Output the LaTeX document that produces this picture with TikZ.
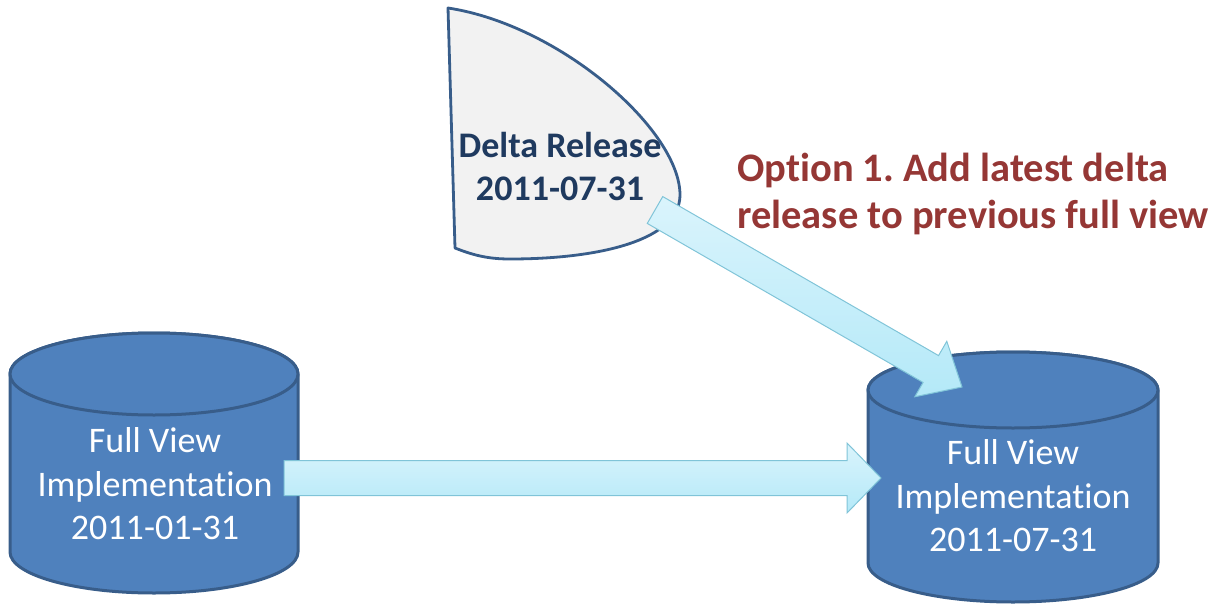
\documentclass[tikz,border=0pt]{standalone}
\usepackage{fontspec}
\setmainfont{Carlito}[Ligatures=NoCommon]
\usetikzlibrary{calc}
\frenchspacing
\definecolor{cylfill}{HTML}{4F81BD}
\definecolor{cylline}{HTML}{385D8A}
\definecolor{arrtop}{HTML}{DAF4FC}
\definecolor{arrbot}{HTML}{B4E9F8}
\definecolor{arrline}{HTML}{80C4D8}
\definecolor{deltafill}{HTML}{F2F2F2}
\definecolor{deltaline}{HTML}{385D8A}
\definecolor{deltatext}{HTML}{1F3A5F}
\definecolor{optred}{HTML}{953735}
\begin{document}
\begin{tikzpicture}[x=1pt,y=-1pt,
  cylbody/.style={fill=cylfill,draw=cylline,line width=3pt,line join=round},
  deltabox/.style={fill=deltafill,draw=deltaline,line width=2.8pt,line join=round},
  blockarr/.style={top color=arrtop,bottom color=arrbot,draw=arrline,line width=1pt,line join=miter},
  cyltext/.style={text=white,align=center,font=\fontsize{36}{43.5}\selectfont,inner sep=0pt},
  deltatxt/.style={text=deltatext,align=center,font=\bfseries\fontsize{36}{43}\selectfont,inner sep=0pt},
  optxt/.style={text=optred,align=left,font=\bfseries\fontsize{40.5}{47}\selectfont,inner sep=0pt}]
\useasboundingbox (0,0) rectangle (1224,605);
% left cylinder
\path[cylbody] (10,374) -- (10,552) arc[start angle=180,end angle=0,x radius=144,y radius=41]
  -- (298,374) arc[start angle=0,end angle=-180,x radius=144,y radius=41] -- cycle;
\draw[cylbody] (154,374) ellipse[x radius=144,y radius=41];
% right cylinder
\path[cylbody] (868,390) -- (868,563) arc[start angle=180,end angle=0,x radius=145,y radius=39]
  -- (1158,390) arc[start angle=0,end angle=-180,x radius=145,y radius=38] -- cycle;
\draw[cylbody] (1013,390) ellipse[x radius=145,y radius=38];
% delta release shape
\path[deltabox] (448,8) -- (455,248) .. controls (475,256) and (490,259) .. (510,259)
  .. controls (600,259) and (680,240) .. (680,195)
  .. controls (680,130) and (560,25) .. (448,8) -- cycle;
% texts
\node[cyltext] (fullA) at (155,484) {Full View\\Implementation\\2011-01-31};
\node[cyltext] (fullB) at (1013,496) {Full View\\Implementation\\2011-07-31};
\node[deltatxt] (delta) at (560,166) {Delta Release\\2011-07-31};
% arrows
\coordinate (hA) at (284,478);
\coordinate (hB) at (881,478);
\coordinate (hH) at ($(hB)!34pt!(hA)$);
\path[blockarr] ($(hA)!17.5pt!90:(hB)$) -- ($(hH)!17.5pt!90:(hB)$) -- ($(hH)!35pt!90:(hB)$)
  -- (hB) -- ($(hH)!35pt!-90:(hB)$) -- ($(hH)!17.5pt!-90:(hB)$) -- ($(hA)!17.5pt!-90:(hB)$) -- cycle;
\coordinate (dA) at (655,210);
\coordinate (dB) at (962,387);
\coordinate (dH) at ($(dB)!36pt!(dA)$);
\path[blockarr] ($(dA)!15.5pt!90:(dB)$) -- ($(dH)!15.5pt!90:(dB)$) -- ($(dH)!32pt!90:(dB)$)
  -- (dB) -- ($(dH)!32pt!-90:(dB)$) -- ($(dH)!15.5pt!-90:(dB)$) -- ($(dA)!15.5pt!-90:(dB)$) -- cycle;
\node[optxt,anchor=west] (opt) at (737,194) {Option 1. Add latest delta\\release to previous full view};
\end{tikzpicture}
\end{document}
